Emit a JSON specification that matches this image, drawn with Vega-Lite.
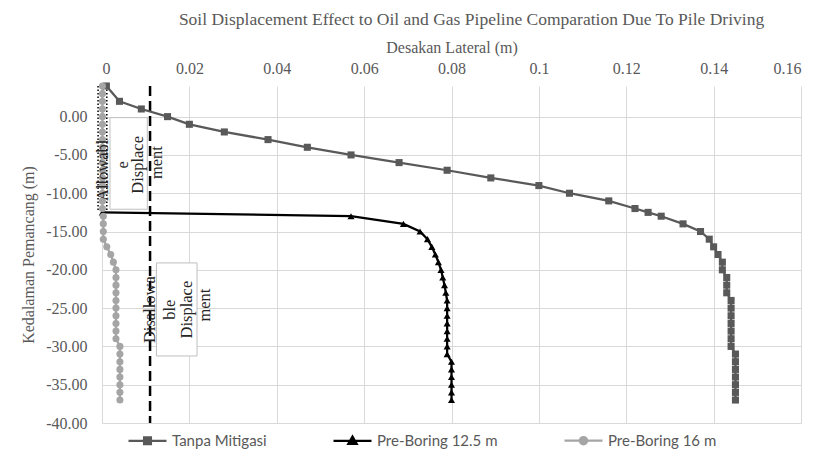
{
  "$schema": "https://vega.github.io/schema/vega-lite/v6.json",
  "width": 699,
  "height": 337,
  "autosize": {"type": "none"},
  "padding": {"left": 102, "top": 86, "right": 21, "bottom": 31},
  "background": "white",
  "title": {
    "text": "Soil Displacement Effect to Oil and Gas Pipeline Comparation Due To Pile Driving",
    "font": "Liberation Serif",
    "fontSize": 17.5,
    "fontWeight": "normal",
    "color": "#595959",
    "dx": 20,
    "offset": 11
  },
  "config": {
    "view": {"stroke": null},
    "axis": {
      "labelFont": "Liberation Serif",
      "labelFontSize": 16,
      "labelColor": "#595959",
      "titleFont": "Liberation Serif",
      "titleFontSize": 16,
      "titleFontWeight": "normal",
      "titleColor": "#595959",
      "gridColor": "#d9d9d9",
      "gridWidth": 1,
      "domain": false,
      "ticks": false
    }
  },
  "datasets": {
    "series": [
      {"s": "Tanpa Mitigasi", "x": 0.001, "y": 4},
      {"s": "Tanpa Mitigasi", "x": 0.004, "y": 2},
      {"s": "Tanpa Mitigasi", "x": 0.009, "y": 1},
      {"s": "Tanpa Mitigasi", "x": 0.015, "y": 0},
      {"s": "Tanpa Mitigasi", "x": 0.020, "y": -1},
      {"s": "Tanpa Mitigasi", "x": 0.028, "y": -2},
      {"s": "Tanpa Mitigasi", "x": 0.038, "y": -3},
      {"s": "Tanpa Mitigasi", "x": 0.047, "y": -4},
      {"s": "Tanpa Mitigasi", "x": 0.057, "y": -5},
      {"s": "Tanpa Mitigasi", "x": 0.068, "y": -6},
      {"s": "Tanpa Mitigasi", "x": 0.079, "y": -7},
      {"s": "Tanpa Mitigasi", "x": 0.089, "y": -8},
      {"s": "Tanpa Mitigasi", "x": 0.100, "y": -9},
      {"s": "Tanpa Mitigasi", "x": 0.107, "y": -10},
      {"s": "Tanpa Mitigasi", "x": 0.116, "y": -11},
      {"s": "Tanpa Mitigasi", "x": 0.122, "y": -12},
      {"s": "Tanpa Mitigasi", "x": 0.125, "y": -12.5},
      {"s": "Tanpa Mitigasi", "x": 0.128, "y": -13},
      {"s": "Tanpa Mitigasi", "x": 0.133, "y": -14},
      {"s": "Tanpa Mitigasi", "x": 0.137, "y": -15},
      {"s": "Tanpa Mitigasi", "x": 0.139, "y": -16},
      {"s": "Tanpa Mitigasi", "x": 0.140, "y": -17},
      {"s": "Tanpa Mitigasi", "x": 0.141, "y": -18},
      {"s": "Tanpa Mitigasi", "x": 0.142, "y": -19},
      {"s": "Tanpa Mitigasi", "x": 0.142, "y": -20},
      {"s": "Tanpa Mitigasi", "x": 0.143, "y": -21},
      {"s": "Tanpa Mitigasi", "x": 0.143, "y": -22},
      {"s": "Tanpa Mitigasi", "x": 0.143, "y": -23},
      {"s": "Tanpa Mitigasi", "x": 0.144, "y": -24},
      {"s": "Tanpa Mitigasi", "x": 0.144, "y": -25},
      {"s": "Tanpa Mitigasi", "x": 0.144, "y": -26},
      {"s": "Tanpa Mitigasi", "x": 0.144, "y": -27},
      {"s": "Tanpa Mitigasi", "x": 0.144, "y": -28},
      {"s": "Tanpa Mitigasi", "x": 0.144, "y": -29},
      {"s": "Tanpa Mitigasi", "x": 0.144, "y": -30},
      {"s": "Tanpa Mitigasi", "x": 0.145, "y": -31},
      {"s": "Tanpa Mitigasi", "x": 0.145, "y": -32},
      {"s": "Tanpa Mitigasi", "x": 0.145, "y": -33},
      {"s": "Tanpa Mitigasi", "x": 0.145, "y": -34},
      {"s": "Tanpa Mitigasi", "x": 0.145, "y": -35},
      {"s": "Tanpa Mitigasi", "x": 0.145, "y": -36},
      {"s": "Tanpa Mitigasi", "x": 0.145, "y": -37},
      {"s": "Pre-Boring 12.5 m", "x": 0.0001, "y": -12.5},
      {"s": "Pre-Boring 12.5 m", "x": 0.057, "y": -13},
      {"s": "Pre-Boring 12.5 m", "x": 0.069, "y": -14},
      {"s": "Pre-Boring 12.5 m", "x": 0.0728, "y": -15},
      {"s": "Pre-Boring 12.5 m", "x": 0.0745, "y": -16},
      {"s": "Pre-Boring 12.5 m", "x": 0.0755, "y": -17},
      {"s": "Pre-Boring 12.5 m", "x": 0.0763, "y": -18},
      {"s": "Pre-Boring 12.5 m", "x": 0.077, "y": -19},
      {"s": "Pre-Boring 12.5 m", "x": 0.0776, "y": -20},
      {"s": "Pre-Boring 12.5 m", "x": 0.078, "y": -21},
      {"s": "Pre-Boring 12.5 m", "x": 0.0784, "y": -22},
      {"s": "Pre-Boring 12.5 m", "x": 0.0787, "y": -23},
      {"s": "Pre-Boring 12.5 m", "x": 0.079, "y": -24},
      {"s": "Pre-Boring 12.5 m", "x": 0.079, "y": -25},
      {"s": "Pre-Boring 12.5 m", "x": 0.079, "y": -26},
      {"s": "Pre-Boring 12.5 m", "x": 0.079, "y": -27},
      {"s": "Pre-Boring 12.5 m", "x": 0.079, "y": -28},
      {"s": "Pre-Boring 12.5 m", "x": 0.079, "y": -29},
      {"s": "Pre-Boring 12.5 m", "x": 0.079, "y": -30},
      {"s": "Pre-Boring 12.5 m", "x": 0.079, "y": -31},
      {"s": "Pre-Boring 12.5 m", "x": 0.080, "y": -32},
      {"s": "Pre-Boring 12.5 m", "x": 0.080, "y": -33},
      {"s": "Pre-Boring 12.5 m", "x": 0.080, "y": -34},
      {"s": "Pre-Boring 12.5 m", "x": 0.080, "y": -35},
      {"s": "Pre-Boring 12.5 m", "x": 0.080, "y": -36},
      {"s": "Pre-Boring 12.5 m", "x": 0.080, "y": -37},
      {"s": "Pre-Boring 16 m", "x": 0.0001, "y": 4},
      {"s": "Pre-Boring 16 m", "x": 0.0001, "y": 3},
      {"s": "Pre-Boring 16 m", "x": 0.0001, "y": 2},
      {"s": "Pre-Boring 16 m", "x": 0.0001, "y": 1},
      {"s": "Pre-Boring 16 m", "x": 0.0001, "y": 0},
      {"s": "Pre-Boring 16 m", "x": 0.0001, "y": -1},
      {"s": "Pre-Boring 16 m", "x": 0.0001, "y": -2},
      {"s": "Pre-Boring 16 m", "x": 0.0001, "y": -3},
      {"s": "Pre-Boring 16 m", "x": 0.0001, "y": -4},
      {"s": "Pre-Boring 16 m", "x": 0.0001, "y": -5},
      {"s": "Pre-Boring 16 m", "x": 0.0001, "y": -6},
      {"s": "Pre-Boring 16 m", "x": 0.0001, "y": -7},
      {"s": "Pre-Boring 16 m", "x": 0.0001, "y": -8},
      {"s": "Pre-Boring 16 m", "x": 0.0001, "y": -9},
      {"s": "Pre-Boring 16 m", "x": 0.0001, "y": -10},
      {"s": "Pre-Boring 16 m", "x": 0.0001, "y": -11},
      {"s": "Pre-Boring 16 m", "x": 0.0001, "y": -12},
      {"s": "Pre-Boring 16 m", "x": 0.0003, "y": -13},
      {"s": "Pre-Boring 16 m", "x": 0.0003, "y": -14},
      {"s": "Pre-Boring 16 m", "x": 0.0003, "y": -15},
      {"s": "Pre-Boring 16 m", "x": 0.0003, "y": -16},
      {"s": "Pre-Boring 16 m", "x": 0.0011, "y": -17},
      {"s": "Pre-Boring 16 m", "x": 0.0020, "y": -18},
      {"s": "Pre-Boring 16 m", "x": 0.0026, "y": -19},
      {"s": "Pre-Boring 16 m", "x": 0.0032, "y": -20},
      {"s": "Pre-Boring 16 m", "x": 0.0032, "y": -21},
      {"s": "Pre-Boring 16 m", "x": 0.0032, "y": -22},
      {"s": "Pre-Boring 16 m", "x": 0.0032, "y": -23},
      {"s": "Pre-Boring 16 m", "x": 0.0032, "y": -24},
      {"s": "Pre-Boring 16 m", "x": 0.0032, "y": -25},
      {"s": "Pre-Boring 16 m", "x": 0.0032, "y": -26},
      {"s": "Pre-Boring 16 m", "x": 0.0032, "y": -27},
      {"s": "Pre-Boring 16 m", "x": 0.0032, "y": -28},
      {"s": "Pre-Boring 16 m", "x": 0.0032, "y": -29},
      {"s": "Pre-Boring 16 m", "x": 0.0041, "y": -30},
      {"s": "Pre-Boring 16 m", "x": 0.0041, "y": -31},
      {"s": "Pre-Boring 16 m", "x": 0.0041, "y": -32},
      {"s": "Pre-Boring 16 m", "x": 0.0041, "y": -33},
      {"s": "Pre-Boring 16 m", "x": 0.0041, "y": -34},
      {"s": "Pre-Boring 16 m", "x": 0.0041, "y": -35},
      {"s": "Pre-Boring 16 m", "x": 0.0041, "y": -36},
      {"s": "Pre-Boring 16 m", "x": 0.0041, "y": -37}
    ],
    "boxes": [
      {"x": 0.00183, "x2": 0.01037, "y": -0.13, "y2": -12.09},
      {"x": 0.01246, "x2": 0.02175, "y": -19.1, "y2": -31.25}
    ],
    "rules": [
      {"kind": "dash", "x": 0.011, "y": 4, "y2": -40},
      {"kind": "dot", "x": -0.0009, "y": 4, "y2": -12.2},
      {"kind": "dot", "x": 0.0011, "y": 4, "y2": -12.2}
    ],
    "labels": [
      {"t": "Allowabl", "x": 0.0002, "y": -7},
      {"t": "e", "x": 0.0048, "y": -6.3},
      {"t": "Displace", "x": 0.0082, "y": -6.3},
      {"t": "ment", "x": 0.0126, "y": -6},
      {"t": "Disallowa", "x": 0.011, "y": -25.2},
      {"t": "ble", "x": 0.0156, "y": -25.2},
      {"t": "Displace", "x": 0.0194, "y": -25.2},
      {"t": "ment", "x": 0.0236, "y": -24.6}
    ]
  },
  "encoding": {
    "x": {
      "field": "x",
      "type": "quantitative",
      "scale": {"domain": [0, 0.16], "nice": false, "zero": false},
      "axis": {
        "orient": "top",
        "title": "Desakan Lateral (m)",
        "values": [0, 0.02, 0.04, 0.06, 0.08, 0.1, 0.12, 0.14, 0.16],
        "format": "~g",
        "labelPadding": 10,
        "titleY": -39,
        "titleX": 349.5,
        "titleBaseline": "middle"
      }
    },
    "y": {
      "field": "y",
      "type": "quantitative",
      "scale": {"domain": [-40, 4], "nice": false, "zero": false},
      "axis": {
        "title": "Kedalaman Pemancang (m)",
        "values": [-40, -35, -30, -25, -20, -15, -10, -5, 0],
        "labelExpr": "(datum.value < 0 ? '-' : '') + format(abs(datum.value), '.2f')",
        "labelPadding": 15,
        "titleX": -74,
        "titleY": 168.5,
        "titleAngle": 270,
        "titleBaseline": "middle",
        "titleAlign": "center"
      }
    }
  },
  "layer": [
    {
      "data": {"name": "boxes"},
      "mark": {"type": "rect", "fill": "white", "stroke": "#bfbfbf", "strokeWidth": 1},
      "encoding": {
        "x2": {"field": "x2"},
        "y2": {"field": "y2"}
      }
    },
    {
      "data": {"name": "rules"},
      "transform": [{"filter": "datum.kind === 'dash'"}],
      "mark": {"type": "rule", "color": "black", "strokeWidth": 2.5, "strokeDash": [10, 5]},
      "encoding": {
        "y2": {"field": "y2"}
      }
    },
    {
      "data": {"name": "rules"},
      "transform": [{"filter": "datum.kind === 'dot'"}],
      "mark": {"type": "rule", "color": "black", "strokeWidth": 1.5, "strokeDash": [1.5, 2], "clip": false},
      "encoding": {
        "y2": {"field": "y2"}
      }
    },
    {
      "data": {"name": "series"},
      "mark": {"type": "line", "strokeWidth": 2.25},
      "encoding": {
        "order": {"field": "y", "sort": "descending"},
        "color": {
          "field": "s",
          "type": "nominal",
          "scale": {
            "domain": ["Tanpa Mitigasi", "Pre-Boring 12.5 m", "Pre-Boring 16 m"],
            "range": ["#595959", "#000000", "#A5A5A5"]
          },
          "legend": {
            "orient": "none",
            "legendX": 25,
            "legendY": 334,
            "direction": "horizontal",
            "title": null,
            "padding": 0,
            "columnPadding": 62,
            "symbolSize": 1444,
            "labelFont": "Lato",
            "labelFontSize": 15,
            "labelColor": "#595959",
            "labelOffset": 4,
            "encode": {
              "symbols": {
                "update": {
                  "shape": {"signal": "datum.value === 'Tanpa Mitigasi' ? 'M-1,0H1M-0.18,-0.18H0.18V0.18H-0.18Z' : datum.value === 'Pre-Boring 12.5 m' ? 'M-1,0H1M0,-0.22L0.22,0.17H-0.22Z' : 'M-1,0H1M-0.19,0A0.19,0.19,0,1,0,0.19,0A0.19,0.19,0,1,0,-0.19,0Z'"},
                  "fill": {"signal": "datum.value === 'Tanpa Mitigasi' ? '#595959' : datum.value === 'Pre-Boring 12.5 m' ? '#000000' : '#A5A5A5'"},
                  "stroke": {"signal": "datum.value === 'Tanpa Mitigasi' ? '#595959' : datum.value === 'Pre-Boring 12.5 m' ? '#000000' : '#A5A5A5'"},
                  "fillOpacity": {"value": 1},
                  "opacity": {"value": 1},
                  "strokeWidth": {"value": 2.25}
                }
              }
            }
          }
        }
      }
    },
    {
      "data": {"name": "series"},
      "transform": [{"filter": "datum.s === 'Tanpa Mitigasi'"}],
      "mark": {"type": "point", "filled": true, "opacity": 1, "size": 50, "shape": "square", "color": "#595959"}
    },
    {
      "data": {"name": "series"},
      "transform": [{"filter": "datum.s === 'Pre-Boring 12.5 m'"}],
      "mark": {"type": "point", "filled": true, "opacity": 1, "size": 50, "shape": "triangle-up", "color": "#000000"}
    },
    {
      "data": {"name": "series"},
      "transform": [{"filter": "datum.s === 'Pre-Boring 16 m'"}],
      "mark": {"type": "point", "filled": true, "opacity": 1, "size": 50, "shape": "circle", "color": "#A5A5A5"}
    },
    {
      "data": {"name": "labels"},
      "mark": {"type": "text", "angle": 270, "font": "Liberation Serif", "fontSize": 16.5, "color": "#262626", "align": "center", "baseline": "middle"},
      "encoding": {
        "text": {"field": "t"}
      }
    }
  ]
}
